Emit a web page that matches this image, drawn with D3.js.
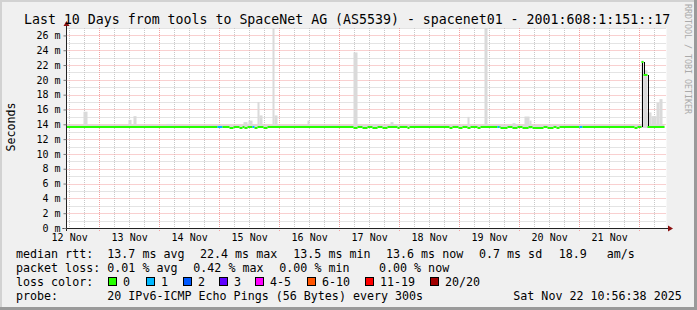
<!DOCTYPE html>
<html>
<head>
<meta charset="utf-8">
<script src="https://cdn.jsdelivr.net/npm/d3@7"></script>
<style>
  html, body { margin: 0; padding: 0; background: #f0f0f0; }
  svg { display: block; }
  text { font-family: "DejaVu Sans Mono", monospace; fill: #000; }
</style>
</head>
<body>
<div id="chart"></div>
<script>
// graph window: 10 days ending Sat Nov 22 10:56:38 2025
const startTime = new Date(2025, 10, 12, 10, 56, 38);
const spanHours = 240;

const yTicks = [0, 2, 4, 6, 8, 10, 12, 14, 16, 18, 20, 22, 24, 26];
const dayLabels = ['12 Nov', '13 Nov', '14 Nov', '15 Nov', '16 Nov', '17 Nov', '18 Nov', '19 Nov', '20 Nov', '21 Nov'];

// median rtt steps: [hours since start, ms, lost pings] (holds until next step)
const medianSteps = [
  [0, 13.7, 0], [60.4, 13.7, 1], [62.4, 13.7, 0], [65.2, 13.45, 0], [66.8, 13.7, 0],
  [69.2, 13.45, 0], [70.4, 13.7, 0], [71.2, 13.45, 0], [72.4, 13.7, 0], [74.4, 13.7, 1],
  [75.2, 13.45, 0], [76.4, 13.7, 0], [78.8, 13.45, 0], [80.4, 13.7, 0],
  [114.8, 13.45, 0], [116.4, 13.7, 0], [118.4, 13.45, 0], [120.4, 13.7, 0], [122.4, 13.45, 0],
  [124.4, 13.7, 0], [126.4, 13.45, 0], [128.4, 13.7, 0], [132.4, 13.45, 0], [133.2, 13.7, 0],
  [136.4, 13.45, 0], [137.2, 13.7, 0],
  [153.2, 13.45, 0], [154.4, 13.7, 0], [156.8, 13.45, 0], [158.4, 13.7, 0], [160.4, 13.45, 0],
  [161.6, 13.7, 0], [164.4, 13.45, 0], [165.6, 13.7, 0], [172.4, 13.7, 1], [173.2, 13.7, 0],
  [173.6, 13.45, 0], [176.4, 13.7, 0], [178.4, 13.45, 0], [180.4, 13.7, 0], [182.4, 13.45, 0],
  [184.8, 13.7, 0], [186.4, 13.45, 0], [190.8, 13.7, 0], [192.4, 13.45, 0], [194.8, 13.7, 0],
  [196.0, 13.45, 0], [197.2, 13.7, 0],
  [205.2, 13.7, 1], [206.4, 13.7, 0], [227.2, 13.45, 0], [228.4, 13.7, 0],
  [230.0, 22.4, 0], [230.8, 20.7, 0], [232.4, 13.7, 0]
];
const dataEndHour = 239.2;

// smoke (ping spread): [from h, to h, min ms, max ms]
const smokeBase = [[0, 239.2, 13.5, 13.95]];
const smokeSpikes = [
  [6.8, 8.4, 13.6, 15.7], [24.8, 26.0, 13.6, 14.6], [26.8, 28.0, 13.6, 15.1],
  [40.0, 42.4, 13.6, 14.05], [70.8, 72.4, 13.4, 14.3], [72.8, 74.4, 13.5, 14.5],
  [76.4, 77.2, 13.5, 17.0], [77.2, 78.4, 13.5, 15.2], [82.4, 83.2, 13.5, 27.5],
  [83.2, 84.4, 13.5, 15.2], [96.4, 97.2, 13.6, 14.5], [114.8, 116.4, 13.4, 23.7],
  [122.4, 124.4, 13.4, 14.0], [129.6, 130.8, 13.6, 14.3], [160.4, 161.2, 13.4, 15.0],
  [167.2, 168.4, 13.6, 27.5], [178.4, 179.6, 13.4, 14.15], [183.2, 185.2, 13.4, 15.05],
  [185.2, 186.0, 13.4, 14.5], [230.0, 230.8, 13.7, 22.6], [230.8, 232.4, 13.7, 21.3],
  [232.4, 234.0, 13.6, 15.6], [234.0, 236.0, 13.6, 15.1], [236.0, 237.2, 13.6, 16.9],
  [237.2, 238.4, 13.6, 17.4]
];

const lossLabels = ['0', '1', '2', '3', '4-5', '6-10', '11-19', '20/20'];
const lossColors = ['#26ff00', '#00b8ff', '#0059ff', '#5e00ff', '#ff00ff', '#ff5500', '#ff0000', '#a10000'];

const statsRtt = ['13.7 ms avg', '22.4 ms max', '13.5 ms min', '13.6 ms now', '0.7 ms sd', '18.9', 'am/s'];
const statsLoss = ['0.01 % avg', '0.42 % max', '0.00 % min', '0.00 % now'];

const W = 697, H = 310;
const pL = 66.5, pR = 666.5, pT = 28, pB = 228;
const t = h => new Date(+startTime + h * 3600e3);

const x = d3.scaleTime().domain([startTime, t(spanHours)]).range([pL, pR]);
const y = d3.scaleLinear().domain([0, 27]).range([pB, pT]);

const svg = d3.select('#chart').append('svg').attr('width', W).attr('height', H);

// frame
svg.append('rect').attr('width', W).attr('height', H).attr('fill', '#f0f0f0');
svg.append('rect').attr('x', 0).attr('y', 0).attr('width', W).attr('height', 2).attr('fill', '#d2d2d2');
svg.append('rect').attr('x', 0).attr('y', 0).attr('width', 2).attr('height', H).attr('fill', '#d2d2d2');
svg.append('rect').attr('x', W - 3).attr('y', 0).attr('width', 3).attr('height', H).attr('fill', '#9a9a9a');
svg.append('rect').attr('x', 0).attr('y', H - 3).attr('width', W).attr('height', 3).attr('fill', '#9a9a9a');

svg.append('rect').attr('x', pL).attr('y', pT).attr('width', pR - pL).attr('height', pB - pT).attr('fill', '#fff');

svg.append('defs').append('clipPath').attr('id', 'plot')
  .append('rect').attr('x', pL).attr('y', pT).attr('width', pR - pL).attr('height', pB - pT);

// grid
const grid = svg.append('g').attr('stroke-width', 1).attr('stroke-dasharray', '1,1').attr('fill', 'none');
const minorGrey = '#c8c8c8', majorRed = '#f3a0a0';

d3.range(1, 28, 2).forEach(v => {
  grid.append('line').attr('x1', pL).attr('x2', pR)
    .attr('y1', Math.round(y(v)) + 0.5).attr('y2', Math.round(y(v)) + 0.5).attr('stroke', minorGrey);
});
d3.timeHour.every(6).range(startTime, t(spanHours)).filter(d => d.getHours() !== 0).forEach(d => {
  const px = Math.round(x(d)) + 0.5;
  grid.append('line').attr('x1', px).attr('x2', px).attr('y1', pT).attr('y2', pB).attr('stroke', minorGrey);
});
yTicks.filter(v => v > 0).forEach(v => {
  grid.append('line').attr('x1', pL).attr('x2', pR)
    .attr('y1', Math.round(y(v)) + 0.5).attr('y2', Math.round(y(v)) + 0.5).attr('stroke', majorRed);
});
d3.timeDay.range(startTime, t(spanHours)).forEach(d => {
  const px = Math.round(x(d)) + 0.5;
  grid.append('line').attr('x1', px).attr('x2', px).attr('y1', pT).attr('y2', pB + 3).attr('stroke', majorRed);
});

// smoke
const plot = svg.append('g').attr('clip-path', 'url(#plot)');
plot.selectAll('rect.smoke').data(smokeBase.concat(smokeSpikes)).join('rect')
  .attr('class', 'smoke')
  .attr('x', d => x(t(d[0])))
  .attr('width', d => x(t(d[1])) - x(t(d[0])))
  .attr('y', d => y(d[3]))
  .attr('height', d => y(d[2]) - y(d[3]))
  .attr('fill', '#dadada');

const ySnap = v => Math.round(y(v));

// black connectors where the median jumps a lot
medianSteps.forEach((d, i) => {
  if (i === 0) return;
  const prev = medianSteps[i - 1][1];
  if (Math.abs(d[1] - prev) < 1) return;
  const px = Math.round(x(t(d[0]))) + 0.5;
  plot.append('line').attr('x1', px).attr('x2', px)
    .attr('y1', ySnap(prev)).attr('y2', ySnap(d[1]))
    .attr('stroke', '#000').attr('stroke-width', 1);
});

// loss coloured median
medianSteps.forEach((d, i) => {
  const h1 = i + 1 < medianSteps.length ? medianSteps[i + 1][0] : dataEndHour;
  plot.append('line')
    .attr('x1', x(t(d[0]))).attr('x2', x(t(h1)))
    .attr('y1', ySnap(d[1])).attr('y2', ySnap(d[1]))
    .attr('stroke', lossColors[d[2]]).attr('stroke-width', 2);
});

// axes
const axisCol = '#222';
svg.append('line').attr('x1', pL).attr('x2', pL).attr('y1', pB + 3).attr('y2', 24).attr('stroke', axisCol);
svg.append('line').attr('x1', pL - 4).attr('x2', 670).attr('y1', pB + 0.5).attr('y2', pB + 0.5).attr('stroke', axisCol);
svg.append('path').attr('d', `M${pL - 3},26 L${pL + 3},26 L${pL},21 Z`).attr('fill', '#8b1010');
svg.append('path').attr('d', `M668,${pB + 0.5 - 3} L668,${pB + 0.5 + 3} L673,${pB + 0.5} Z`).attr('fill', '#8b1010');

const yAxis = svg.append('g').attr('transform', `translate(${pL},0)`)
  .call(d3.axisLeft(y).tickValues(yTicks).tickFormat(d => `${d} m`).tickSize(3).tickPadding(3));
yAxis.select('.domain').remove();
yAxis.selectAll('line').attr('stroke', '#777');
yAxis.selectAll('text').attr('font-size', '10px').attr('font-family', '"DejaVu Sans Mono", monospace').attr('fill', '#000');

const noons = dayLabels.map((s, i) => d3.timeHour.offset(d3.timeDay.offset(new Date(2025, 10, 12), i), 12));
const xAxis = svg.append('g').attr('transform', `translate(0,${pB})`)
  .call(d3.axisBottom(x).tickValues(noons).tickFormat((d, i) => dayLabels[i]).tickSize(0).tickPadding(6));
xAxis.select('.domain').remove();
xAxis.selectAll('text').attr('font-size', '10px').attr('font-family', '"DejaVu Sans Mono", monospace').attr('fill', '#000');

// titles
svg.append('text').attr('x', 24).attr('y', 24).attr('font-size', '13.25px')
  .text('Last 10 Days from tools to SpaceNet AG (AS5539) - spacenet01 - 2001:608:1:151::17');
svg.append('text').attr('transform', 'translate(15,127) rotate(-90)').attr('text-anchor', 'middle')
  .attr('font-size', '11.6px').text('Seconds');
svg.append('text').attr('transform', 'translate(685,4) rotate(90)').attr('font-size', '8.3px')
  .style('fill', '#aaa').text('RRDTOOL / TOBI OETIKER');

// legend
const fs = '11.66px';
const lg = svg.append('g').attr('font-size', fs);
const rttX = [107.3, 200, 293.3, 386, 479, 558.7, 606.7];
lg.append('text').attr('x', 16).attr('y', 258).text('median rtt:');
statsRtt.forEach((s, i) => lg.append('text').attr('x', rttX[i]).attr('y', 258).text(s));
const lossX = [107.3, 193.3, 279.3, 379];
lg.append('text').attr('x', 16).attr('y', 272).text('packet loss:');
statsLoss.forEach((s, i) => lg.append('text').attr('x', lossX[i]).attr('y', 272).text(s));
lg.append('text').attr('x', 16).attr('y', 286).text('loss color:');
const boxX = [108, 146, 183, 219, 255, 307, 365, 430];
lossLabels.forEach((s, i) => {
  lg.append('rect').attr('x', boxX[i] + 0.5).attr('y', 277.5).attr('width', 8).attr('height', 8)
    .attr('fill', lossColors[i]).attr('stroke', '#000').attr('stroke-width', 1);
  lg.append('text').attr('x', boxX[i] + 15).attr('y', 286).text(s);
});
lg.append('text').attr('x', 16).attr('y', 299.5).text('probe:');
lg.append('text').attr('x', 107.3).attr('y', 299.5).text('20 IPv6-ICMP Echo Pings (56 Bytes) every 300s');
lg.append('text').attr('x', 513.3).attr('y', 299.5).text('Sat Nov 22 10:56:38 2025');
</script>
</body>
</html>
